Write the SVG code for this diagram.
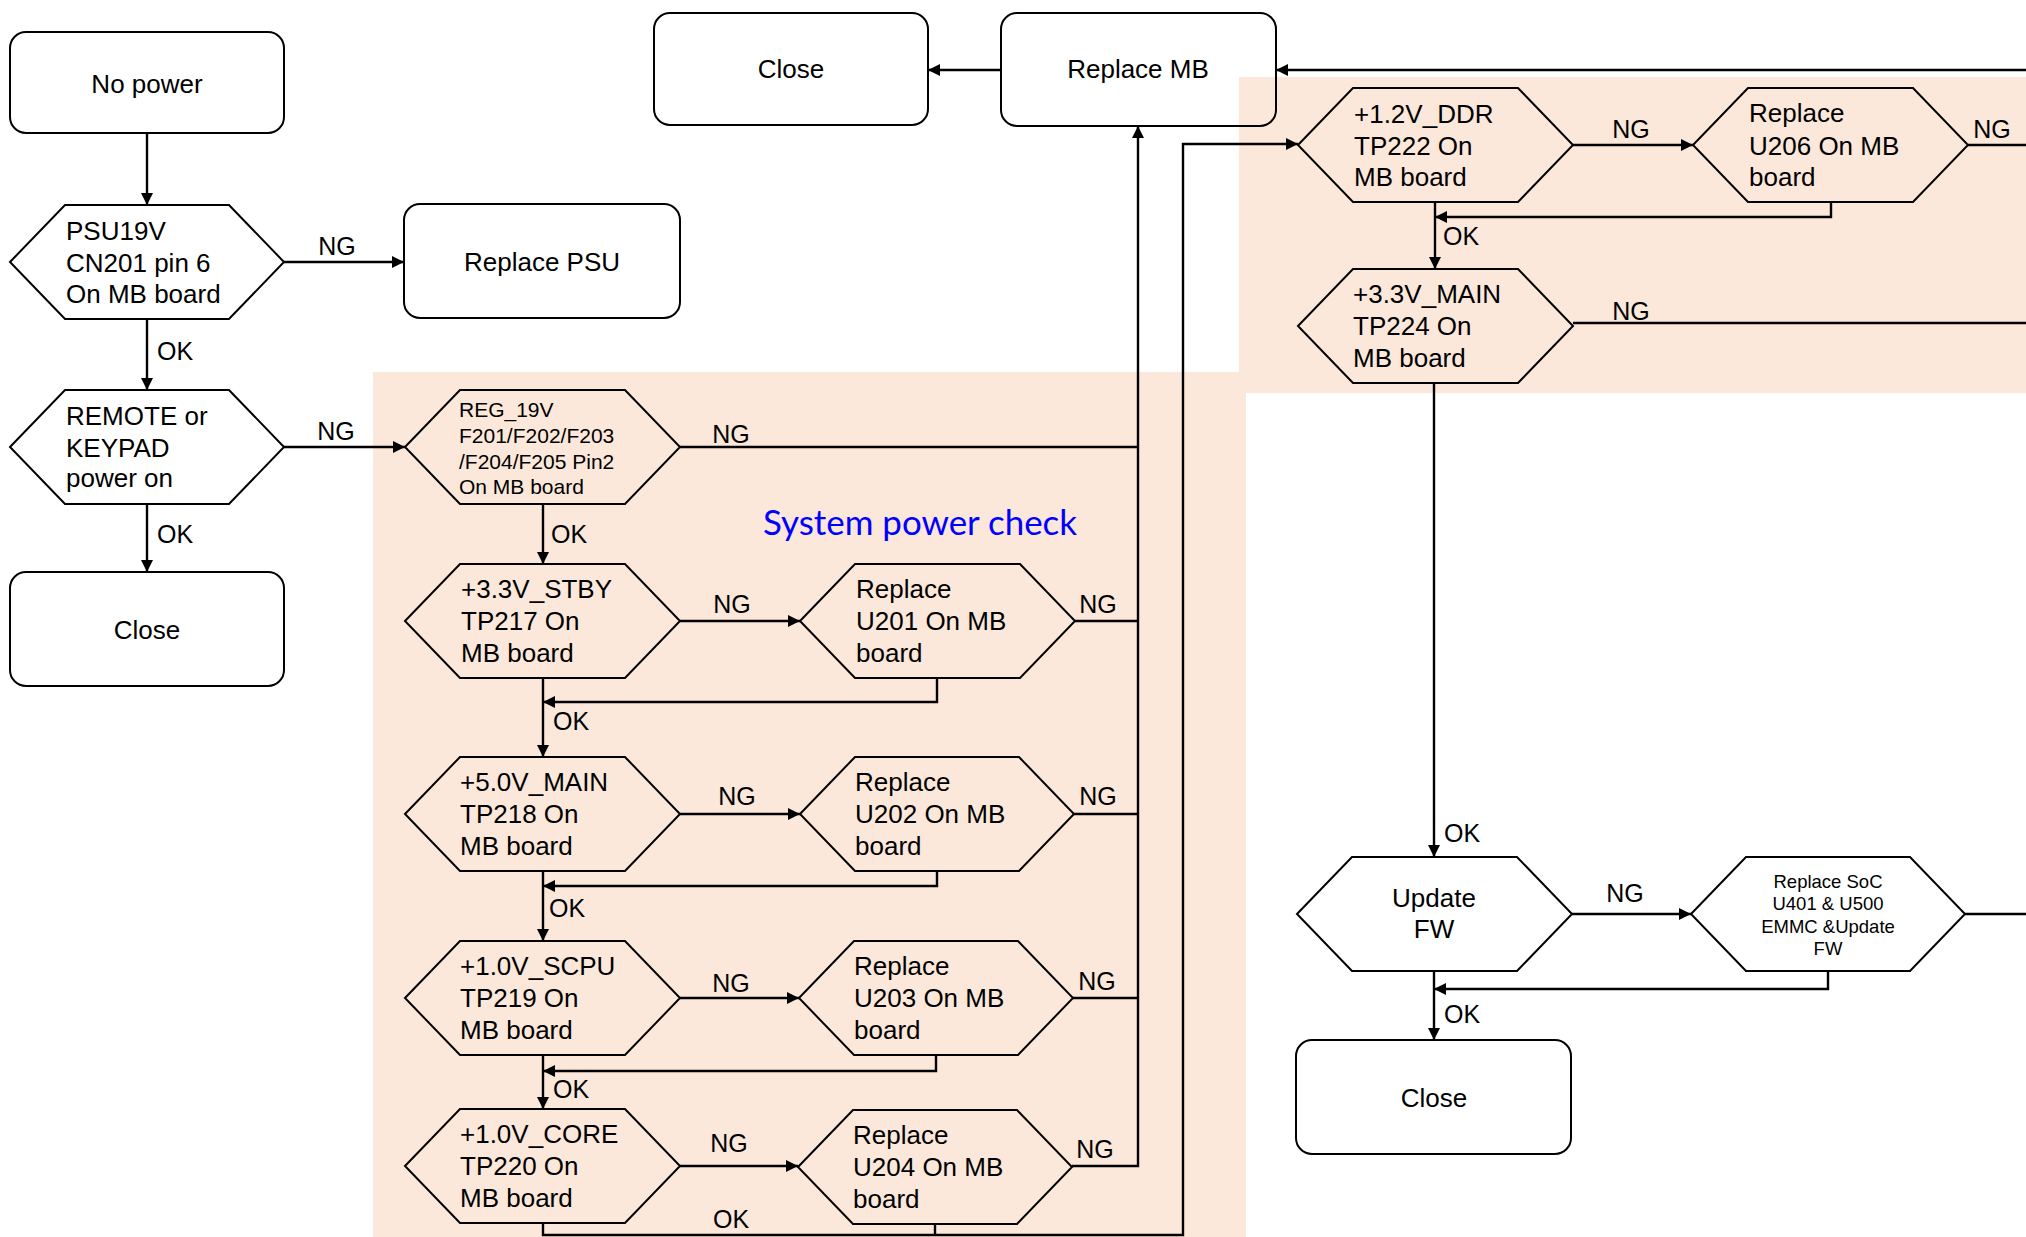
<svg xmlns="http://www.w3.org/2000/svg" width="2026" height="1237" viewBox="0 0 2026 1237">
<defs>
<marker id="ah" markerUnits="userSpaceOnUse" markerWidth="13" markerHeight="12" refX="12" refY="6" orient="auto">
<path d="M0,0 L12,6 L0,12 z" fill="#000"/>
</marker>
<style>
text{font-family:"Liberation Sans",Arial,sans-serif;fill:#000}
.t{font-size:26px}
.ts{font-size:21px}
.tx{font-size:18.5px}
.c{text-anchor:middle}
.lb{font-size:25px}
.box{fill:none;stroke:#000;stroke-width:2}
.hex{fill:none;stroke:#000;stroke-width:2;stroke-linejoin:miter}
.ln{fill:none;stroke:#000;stroke-width:2.4}
.ar{fill:none;stroke:#000;stroke-width:2.4;marker-end:url(#ah)}
.bg{fill:#FCE8DA}
.title{font-family:Lato,"Open Sans",sans-serif;font-size:34px;fill:#0000FF}
</style>
</defs>
<rect width="2026" height="1237" fill="#fff"/>
<g id="regions">
<rect class="bg" x="373" y="372" width="873" height="865"/>
<rect class="bg" x="1239" y="77" width="787" height="316"/>
</g>
<text class="title" x="763" y="535" textLength="314" lengthAdjust="spacingAndGlyphs">System power check</text>

<g id="connectors">
<path class="ar" d="M147,133 V205"/>
<path class="ar" d="M284,262 H404"/>
<path class="ar" d="M147,319 V390"/>
<path class="ar" d="M147,504 V572"/>
<path class="ar" d="M284,447 H405"/>
<path class="ln" d="M680,447 H1138"/>
<path class="ar" d="M543,504 V564"/>
<path class="ar" d="M680,621 H800"/>
<path class="ln" d="M1075,621 H1138"/>
<path class="ar" d="M937,678 V702 H543"/>
<path class="ar" d="M543,678 V757"/>
<path class="ar" d="M680,814 H800"/>
<path class="ln" d="M1074,814 H1138"/>
<path class="ar" d="M937,871 V886 H543"/>
<path class="ar" d="M543,871 V941"/>
<path class="ar" d="M680,998 H799"/>
<path class="ln" d="M1073,998 H1138"/>
<path class="ar" d="M936,1055 V1071 H543"/>
<path class="ar" d="M543,1055 V1109"/>
<path class="ar" d="M680,1166 H798"/>
<path class="ar" d="M1072,1166 H1138 V126"/>
<path class="ar" d="M543,1223 V1235 H1183 V144 H1298"/>
<path class="ln" d="M935,1224 V1235"/>
<path class="ar" d="M1001,70 H928"/>
<path class="ar" d="M2026,70 H1276"/>
<path class="ar" d="M1573,145 H1693"/>
<path class="ln" d="M1968,145 H2026"/>
<path class="ar" d="M1831,202 V217 H1435"/>
<path class="ar" d="M1435,202 V269"/>
<path class="ln" d="M1573,323 H2026"/>
<path class="ar" d="M1434,383 V857"/>
<path class="ar" d="M1572,914 H1691"/>
<path class="ln" d="M1965,914 H2026"/>
<path class="ar" d="M1828,971 V989 H1434"/>
<path class="ar" d="M1434,971 V1040"/>
</g>

<g id="labels">
<text class="lb c" x="337" y="255">NG</text>
<text class="lb" x="157" y="360">OK</text>
<text class="lb" x="157" y="543">OK</text>
<text class="lb c" x="336" y="440">NG</text>
<text class="lb c" x="731" y="443">NG</text>
<text class="lb" x="551" y="543">OK</text>
<text class="lb c" x="732" y="613">NG</text>
<text class="lb c" x="1098" y="613">NG</text>
<text class="lb" x="553" y="730">OK</text>
<text class="lb c" x="737" y="805">NG</text>
<text class="lb c" x="1098" y="805">NG</text>
<text class="lb" x="549" y="917">OK</text>
<text class="lb c" x="731" y="992">NG</text>
<text class="lb c" x="1097" y="990">NG</text>
<text class="lb" x="553" y="1098">OK</text>
<text class="lb c" x="729" y="1152">NG</text>
<text class="lb c" x="1095" y="1158">NG</text>
<text class="lb c" x="731" y="1228">OK</text>
<text class="lb c" x="1631" y="138">NG</text>
<text class="lb c" x="1992" y="138">NG</text>
<text class="lb" x="1443" y="245">OK</text>
<text class="lb c" x="1631" y="320">NG</text>
<text class="lb" x="1444" y="842">OK</text>
<text class="lb c" x="1625" y="902">NG</text>
<text class="lb" x="1444" y="1023">OK</text>
</g>

<g id="n-nopower">
<rect class="box" x="10" y="32" width="274" height="101" rx="16"/>
<text class="t c" x="147" y="93">No power</text>
</g>
<g id="n-psu19v">
<path class="hex" d="M10,262 L65,205 H229 L284,262 L229,319 H65 Z"/>
<text class="t" x="66" y="240">PSU19V</text>
<text class="t" x="66" y="272">CN201 pin 6</text>
<text class="t" x="66" y="303">On MB board</text>
</g>
<g id="n-replacepsu">
<rect class="box" x="404" y="204" width="276" height="114" rx="16"/>
<text class="t c" x="542" y="271">Replace PSU</text>
</g>
<g id="n-remote">
<path class="hex" d="M10,447 L65,390 H229 L284,447 L229,504 H65 Z"/>
<text class="t" x="66" y="425">REMOTE or</text>
<text class="t" x="66" y="457">KEYPAD</text>
<text class="t" x="66" y="487">power on</text>
</g>
<g id="n-close1">
<rect class="box" x="10" y="572" width="274" height="114" rx="16"/>
<text class="t c" x="147" y="639">Close</text>
</g>
<g id="n-close2">
<rect class="box" x="654" y="13" width="274" height="112" rx="16"/>
<text class="t c" x="791" y="78">Close</text>
</g>
<g id="n-replacemb">
<rect class="box" x="1001" y="13" width="275" height="113" rx="16"/>
<text class="t c" x="1138" y="78">Replace MB</text>
</g>
<g id="n-reg19v">
<path class="hex" d="M405,447 L460,390 H625 L680,447 L625,504 H460 Z"/>
<text class="ts" x="459" y="417">REG_19V</text>
<text class="ts" x="459" y="443">F201/F202/F203</text>
<text class="ts" x="459" y="469">/F204/F205 Pin2</text>
<text class="ts" x="459" y="494">On MB board</text>
</g>
<g id="n-stby">
<path class="hex" d="M405,621 L460,564 H625 L680,621 L625,678 H460 Z"/>
<text class="t" x="461" y="598">+3.3V_STBY</text>
<text class="t" x="461" y="630">TP217 On</text>
<text class="t" x="461" y="662">MB board</text>
</g>
<g id="n-u201">
<path class="hex" d="M800,621 L855,564 H1020 L1075,621 L1020,678 H855 Z"/>
<text class="t" x="856" y="598">Replace</text>
<text class="t" x="856" y="630">U201 On MB</text>
<text class="t" x="856" y="662">board</text>
</g>
<g id="n-5v">
<path class="hex" d="M405,814 L460,757 H625 L680,814 L625,871 H460 Z"/>
<text class="t" x="460" y="791">+5.0V_MAIN</text>
<text class="t" x="460" y="823">TP218 On</text>
<text class="t" x="460" y="855">MB board</text>
</g>
<g id="n-u202">
<path class="hex" d="M800,814 L855,757 H1019 L1074,814 L1019,871 H855 Z"/>
<text class="t" x="855" y="791">Replace</text>
<text class="t" x="855" y="823">U202 On MB</text>
<text class="t" x="855" y="855">board</text>
</g>
<g id="n-scpu">
<path class="hex" d="M405,998 L460,941 H625 L680,998 L625,1055 H460 Z"/>
<text class="t" x="460" y="975">+1.0V_SCPU</text>
<text class="t" x="460" y="1007">TP219 On</text>
<text class="t" x="460" y="1039">MB board</text>
</g>
<g id="n-u203">
<path class="hex" d="M799,998 L854,941 H1018 L1073,998 L1018,1055 H854 Z"/>
<text class="t" x="854" y="975">Replace</text>
<text class="t" x="854" y="1007">U203 On MB</text>
<text class="t" x="854" y="1039">board</text>
</g>
<g id="n-core">
<path class="hex" d="M405,1166 L460,1109 H625 L680,1166 L625,1223 H460 Z"/>
<text class="t" x="460" y="1143">+1.0V_CORE</text>
<text class="t" x="460" y="1175">TP220 On</text>
<text class="t" x="460" y="1207">MB board</text>
</g>
<g id="n-u204">
<path class="hex" d="M798,1167 L853,1110 H1017 L1072,1167 L1017,1224 H853 Z"/>
<text class="t" x="853" y="1144">Replace</text>
<text class="t" x="853" y="1176">U204 On MB</text>
<text class="t" x="853" y="1208">board</text>
</g>
<g id="n-ddr">
<path class="hex" d="M1298,145 L1353,88 H1518 L1573,145 L1518,202 H1353 Z"/>
<text class="t" x="1354" y="123">+1.2V_DDR</text>
<text class="t" x="1354" y="155">TP222 On</text>
<text class="t" x="1354" y="186">MB board</text>
</g>
<g id="n-u206">
<path class="hex" d="M1693,145 L1748,88 H1913 L1968,145 L1913,202 H1748 Z"/>
<text class="t" x="1749" y="122">Replace</text>
<text class="t" x="1749" y="155">U206 On MB</text>
<text class="t" x="1749" y="186">board</text>
</g>
<g id="n-main33">
<path class="hex" d="M1298,326 L1353,269 H1518 L1573,326 L1518,383 H1353 Z"/>
<text class="t" x="1353" y="303">+3.3V_MAIN</text>
<text class="t" x="1353" y="335">TP224 On</text>
<text class="t" x="1353" y="367">MB board</text>
</g>
<g id="n-updatefw">
<path class="hex" d="M1297,914 L1352,857 H1517 L1572,914 L1517,971 H1352 Z"/>
<text class="t c" x="1434" y="907">Update</text>
<text class="t c" x="1434" y="938">FW</text>
</g>
<g id="n-soc">
<path class="hex" d="M1691,914 L1746,857 H1910 L1965,914 L1910,971 H1746 Z"/>
<text class="tx c" x="1828" y="888">Replace SoC</text>
<text class="tx c" x="1828" y="910">U401 &amp; U500</text>
<text class="tx c" x="1828" y="933">EMMC &amp;Update</text>
<text class="tx c" x="1828" y="955">FW</text>
</g>
<g id="n-close3">
<rect class="box" x="1296" y="1040" width="275" height="114" rx="16"/>
<text class="t c" x="1434" y="1107">Close</text>
</g>
</svg>
